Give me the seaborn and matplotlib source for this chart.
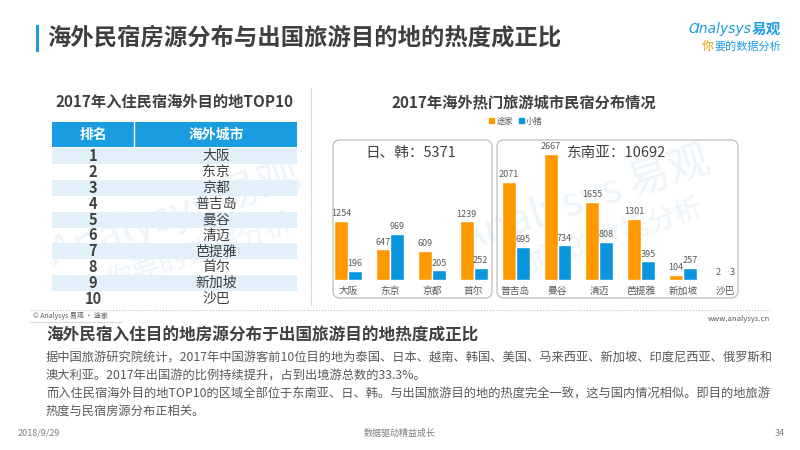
import matplotlib
matplotlib.use("Agg")
import matplotlib.pyplot as plt
import seaborn as sns
import pandas as pd
from matplotlib.patches import Rectangle, FancyBboxPatch
from matplotlib.lines import Line2D

# 数据
cities = ['大阪', '东京', '京都', '首尔', '普吉岛', '曼谷', '清迈', '芭提雅', '新加坡', '沙巴']
tujia = [1254, 647, 609, 1239, 2071, 2667, 1655, 1301, 104, 2]
xiaozhu = [196, 969, 205, 252, 695, 734, 808, 395, 257, 3]
platforms = ['途家', '小猪']
ranks = [str(i) for i in range(1, 11)]
top10 = ['大阪', '东京', '京都', '普吉岛', '曼谷', '清迈', '芭提雅', '首尔', '新加坡', '沙巴']
region_titles = ['日、韩：5371', '东南亚：10692']

ORANGE = '#FF9900'
BLUE = '#0A96DF'
DARK = '#404040'
GRAY = '#595959'

sns.set_style("white")
plt.rcParams['font.family'] = ['Noto Sans CJK SC', 'DejaVu Sans']

W, H = 800, 450
fig = plt.figure(figsize=(8, 4.5), dpi=100)


def fp(x, y):
    # 像素坐标 -> figure 坐标
    return x / W, 1 - y / H


def ip(x, y):
    # 像素坐标 -> 英寸 (dpi_scale_trans)
    return x / 100, (H - y) / 100


# 水印
for (wx, wy) in [(175, 215), (585, 200)]:
    fig.text(*fp(wx, wy), 'Analysys 易观', fontsize=30, color='#e2eff9', alpha=0.6,
             rotation=18, ha='center', va='center', zorder=-5)
    fig.text(*fp(wx + 25, wy + 38), '你要的数据分析', fontsize=20, color='#e2eff9', alpha=0.6,
             rotation=18, ha='center', va='center', zorder=-5)

# 标题
fig.add_artist(Rectangle(ip(36, 52), 0.025, 0.27, transform=fig.dpi_scale_trans,
                         color='#1a9ce0', lw=0))
fig.text(*fp(47, 38), '海外民宿房源分布与出国旅游目的地的热度成正比', fontsize=16.8,
         fontweight='bold', color='#3f3f3f', va='center', ha='left')

# logo
fig.text(*fp(752, 29), 'Ɑnalysys', fontsize=10, color='#1a9ce0', ha='right', va='center',
         style='italic', family=['DejaVu Sans'])
fig.text(*fp(781, 29), '易观', fontsize=10.5, color='#1a9ce0', ha='right', va='center',
         fontweight='bold')
fig.text(*fp(714, 46), '你', fontsize=8.5, color='#f39800', ha='right', va='center')
fig.text(*fp(781, 46), '要的数据分析', fontsize=8, color='#1a9ce0', ha='right', va='center')

# 小标题
fig.text(*fp(175, 102), '2017年入住民宿海外目的地TOP10', fontsize=11, fontweight='bold',
         color=DARK, ha='center', va='center')
fig.text(*fp(524, 102), '2017年海外热门旅游城市民宿分布情况', fontsize=11, fontweight='bold',
         color=DARK, ha='center', va='center')

# 分隔线
fig.add_artist(Line2D([311 / W, 311 / W], [1 - 88 / H, 1 - 305 / H], color='#d9d9d9', lw=0.8))

# 表格
t_left, t_right, t_split = 52, 297, 134
fig.add_artist(Rectangle(ip(t_left, 147), (t_right - t_left) / 100, 0.25,
                         transform=fig.dpi_scale_trans, color='#1a9ce0', lw=0))
fig.add_artist(Line2D([t_split / W] * 2, [1 - 122 / H, 1 - 147 / H], color='white', lw=1))
fig.text(*fp(93, 135), '排名', fontsize=10, fontweight='bold', color='white', ha='center', va='center')
fig.text(*fp(216, 135), '海外城市', fontsize=10, fontweight='bold', color='white', ha='center', va='center')
row_h = 15.9
for i, (r, c) in enumerate(zip(ranks, top10)):
    yc = 156 + row_h * i
    if i % 2 == 0:
        fig.add_artist(Rectangle(ip(t_left, yc + row_h / 2), (t_right - t_left) / 100, row_h / 100,
                                 transform=fig.dpi_scale_trans, color='#e2f0fa', lw=0, zorder=-1))
    fig.text(*fp(93, yc), r, fontsize=10.5, fontweight='bold', color=DARK, ha='center', va='center')
    fig.text(*fp(216, yc), c, fontsize=10, color=DARK, ha='center', va='center')

# 柱状图
df = pd.DataFrame({
    'city': cities * 2,
    'platform': [platforms[0]] * len(cities) + [platforms[1]] * len(cities),
    'value': tujia + xiaozhu,
})
step = 41.9
ax = fig.add_axes([(348 - step / 2) / W, 1 - 280 / H, step * 10 / W, 141.7 / H])
ax.patch.set_alpha(0)
sns.barplot(data=df, x='city', y='value', hue='platform', palette=[ORANGE, BLUE],
            width=0.667, gap=0, ax=ax, legend=False, saturation=1)
for cont in ax.containers:
    ax.bar_label(cont, padding=2, fontsize=6.5, color=GRAY)
ax.set_xlim(-0.5, 9.5)
ax.set_ylim(0, 3000)
ax.set_xlabel('')
ax.set_ylabel('')
ax.set_yticks([])
ax.tick_params(axis='x', length=0, pad=4, labelsize=7, labelcolor=GRAY)
sns.despine(ax=ax, left=True, bottom=True)
ax.axhline(0, color='#f2f2f2', lw=0.8, zorder=0)

# 圆角框
for (x0, x1), title, tx in zip([(333, 492), (497, 738)], region_titles, [411, 617]):
    box = FancyBboxPatch(ip(x0, 298), (x1 - x0) / 100, (298 - 140) / 100,
                         boxstyle='round,pad=0,rounding_size=0.07',
                         transform=fig.dpi_scale_trans, fill=False, ec='#bfbfbf', lw=0.9)
    fig.add_artist(box)
    fig.text(*fp(tx, 153), title, fontsize=10.5, color=DARK, ha='center', va='center')

# 图例
handles = [Rectangle((0, 0), 1, 1, color=ORANGE), Rectangle((0, 0), 1, 1, color=BLUE)]
fig.legend(handles, platforms, loc='center', bbox_to_anchor=fp(516, 121), ncol=2, frameon=False,
           fontsize=6, handlelength=0.6, handleheight=0.6, columnspacing=0.6, handletextpad=0.3,
           labelcolor=GRAY)

# 底部
fig.add_artist(Line2D([30 / W, 770 / W], [1 - 310 / H] * 2, color='#bfbfbf', lw=0.8, ls=':'))
fig.text(*fp(33, 316), '© Analysys 易观 · 途家', fontsize=5, color=GRAY, ha='left', va='center')
fig.text(*fp(770, 319), 'www.analysys.cn', fontsize=5.5, color=GRAY, ha='right', va='center')
fig.add_artist(Line2D([30 / W, 122 / W], [1 - 322 / H] * 2, color='#d9d9d9', lw=0.8))
fig.text(*fp(46, 336), '海外民宿入住目的地房源分布于出国旅游目的地热度成正比', fontsize=12,
         fontweight='bold', color=DARK, ha='left', va='center')
para = [
    '据中国旅游研究院统计，2017年中国游客前10位目的地为泰国、日本、越南、韩国、美国、马来西亚、新加坡、印度尼西亚、俄罗斯和',
    '澳大利亚。2017年出国游的比例持续提升，占到出境游总数的33.3%。',
    '而入住民宿海外目的地TOP10的区域全部位于东南亚、日、韩。与出国旅游目的地的热度完全一致，这与国内情况相似。即目的地旅游',
    '热度与民宿房源分布正相关。',
]
for i, line in enumerate(para):
    fig.text(*fp(46, 358 + 17.8 * i), line, fontsize=8.8, color=GRAY, ha='left', va='center')

fig.text(*fp(18, 433), '2018/9/29', fontsize=6.5, color='#7f7f7f', ha='left', va='center')
fig.text(*fp(400, 433), '数据驱动精益成长', fontsize=6.5, color='#7f7f7f', ha='center', va='center')
fig.text(*fp(785, 433), '34', fontsize=6.5, color='#7f7f7f', ha='right', va='center')

fig.savefig('out.png', dpi=100)
